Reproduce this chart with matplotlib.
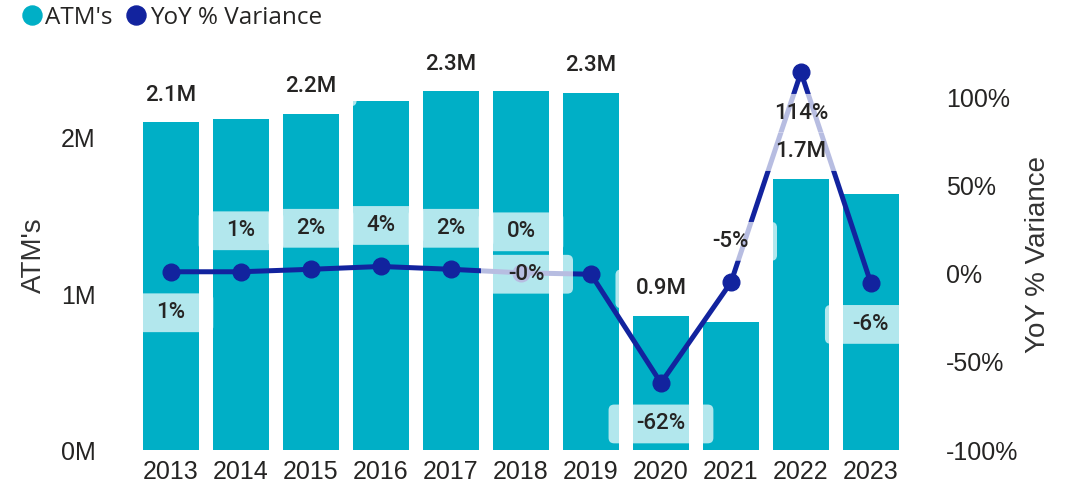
import matplotlib
matplotlib.use("Agg")
import matplotlib.pyplot as plt
import matplotlib.transforms as mtransforms
from matplotlib.patches import BoxStyle
from matplotlib.lines import Line2D
from matplotlib.ticker import FuncFormatter
import numpy as np

# data
years = ["2013", "2014", "2015", "2016", "2017", "2018", "2019", "2020", "2021", "2022", "2023"]
atms = [2.10e6, 2.12e6, 2.155e6, 2.24e6, 2.30e6, 2.30e6, 2.29e6, 0.86e6, 0.82e6, 1.74e6, 1.64e6]
yoy = [0.01, 0.01, 0.024, 0.04, 0.024, 0.004, -0.004, -0.62, -0.05, 1.14, -0.056]

# which bar labels Power BI kept, and where each line label sits
bar_label_shown = [True, False, True, False, True, False, True, True, False, True, False]
yoy_label_side = ["below", "above", "above", "above", "above", "above", "left",
                  "below", "above", "below", "below"]

bar_color = "#00AFC6"
line_color = "#12239E"
text_color = "#252423"

plt.rcParams["font.family"] = ["Liberation Sans", "DejaVu Sans"]
plt.rcParams["axes.unicode_minus"] = False


def make_box(padx_em, pady_em):
    # wide, flat rounded box like the Power BI data label background
    def box(x0, y0, width, height, mutation_size):
        padx = padx_em * mutation_size
        pady = pady_em * mutation_size
        return BoxStyle.Round(pad=0, rounding_size=0.25)(
            x0 - padx, y0 - pady, width + 2 * padx, height + 2 * pady, mutation_size)
    return box


yoy_box = dict(boxstyle=make_box(1.25, 0.4), facecolor="white", edgecolor="none", alpha=0.7)
bar_box = dict(boxstyle=make_box(0.9, 0.4), facecolor="white", edgecolor="none", alpha=0.7)

fig = plt.figure(figsize=(10.68, 4.90), dpi=100)
ax = fig.add_axes([0.1273, 0.0816, 0.7210, 0.7960])
ax2 = ax.twinx()
ax.set_zorder(2)
ax2.set_zorder(1)
ax.patch.set_visible(False)

x = np.arange(len(years))
ax.bar(x, atms, width=0.8, color=bar_color, zorder=1)
ax.set_xlim(-0.5, len(years) - 0.5)
ax.set_ylim(0, 2.5e6)
ax2.set_ylim(-1.0, 1.21)

# draw the line on the bar axes (scaled from the right axis) so labels stay on top
lo, hi = ax2.get_ylim()
yoy_left = [(v - lo) / (hi - lo) * ax.get_ylim()[1] for v in yoy]
ax.plot(x, yoy_left, color=line_color, lw=3.6, marker="o", markersize=12,
        solid_capstyle="round", zorder=2)

# bar value labels
for xi, v, shown in zip(x, atms, bar_label_shown):
    if not shown:
        continue
    tr = fig.dpi_scale_trans + mtransforms.ScaledTranslation(xi, v, ax.transData)
    ax.text(0, 27 / 100, f"{v / 1e6:.1f}M", transform=tr, ha="center", va="center",
            fontsize=16, family="Roboto", fontweight="medium", color=text_color,
            bbox=bar_box, zorder=5, clip_on=False)

# yoy labels
offsets = {"above": (0, 41), "below": (0, -41), "left": (-64, 0)}
for xi, yl, val, side in zip(x, yoy_left, yoy, yoy_label_side):
    dx, dy = offsets[side]
    tr = fig.dpi_scale_trans + mtransforms.ScaledTranslation(xi, yl, ax.transData)
    ax.text(dx / 100, dy / 100, f"{val:.0%}", transform=tr, ha="center", va="center",
            fontsize=16, family="Roboto", fontweight="medium", color=text_color,
            bbox=yoy_box, zorder=5, clip_on=False)

ax.set_xticks(x)
ax.set_xticklabels(years)
ax.set_yticks([0, 1e6, 2e6])
ax.yaxis.set_major_formatter(FuncFormatter(lambda v, p: f"{v / 1e6:.0f}M"))
ax2.set_yticks([-1, -0.5, 0, 0.5, 1])
ax2.yaxis.set_major_formatter(FuncFormatter(lambda v, p: f"{v:.0%}"))

ax.tick_params(axis="x", length=0, pad=7, labelsize=18, labelcolor=text_color)
ax.tick_params(axis="y", length=0, pad=29, labelsize=18, labelcolor=text_color)
ax2.tick_params(axis="y", length=0, pad=29, labelsize=18, labelcolor=text_color)

for a in (ax, ax2):
    for s in a.spines.values():
        s.set_visible(False)

ax.set_ylabel("ATM's", fontsize=20, color="#333333")
ax.yaxis.set_label_coords(-0.115, 0.5)
ax2.set_ylabel("YoY % Variance", fontsize=20, color="#333333")
ax2.yaxis.set_label_coords(1.1545, 0.5)

handles = [
    Line2D([], [], marker="o", linestyle="", markersize=13.7, color=bar_color),
    Line2D([], [], marker="o", linestyle="", markersize=13.7, color=line_color),
]
fig.legend(handles, ["ATM's", "YoY % Variance"], loc="upper left",
           bbox_to_anchor=(22 / 1068, 1 - 6 / 490), ncol=2, frameon=False,
           prop={"family": "Open Sans", "size": 17.5}, handlelength=0.8,
           handletextpad=0.16, columnspacing=0.55, borderpad=0, borderaxespad=0,
           labelcolor=text_color)

fig.savefig("out.png", dpi=100, facecolor="white")
